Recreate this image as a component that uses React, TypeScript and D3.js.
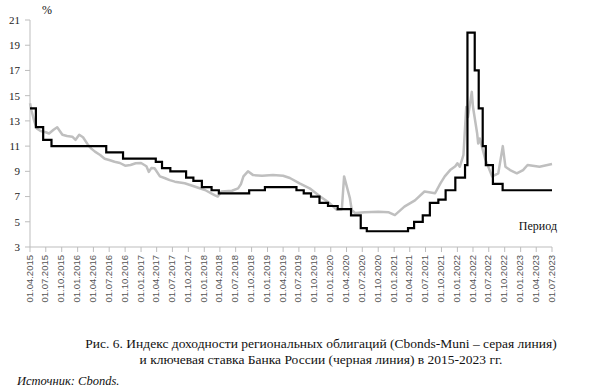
import React from 'react';
import * as d3 from 'd3';

// Ключевая ставка Банка России (даты изменения)
const keyDates = [
  '2015-04-01', '2015-05-05', '2015-06-16', '2015-08-03', '2016-06-14', '2016-09-19',
  '2017-03-27', '2017-05-02', '2017-06-19', '2017-09-18', '2017-10-30', '2017-12-18',
  '2018-02-12', '2018-03-26', '2018-09-17', '2018-12-17', '2019-06-17', '2019-07-29',
  '2019-09-09', '2019-10-28', '2019-12-16', '2020-02-10', '2020-04-27', '2020-06-22',
  '2020-07-27', '2021-03-22', '2021-04-26', '2021-06-15', '2021-07-26', '2021-09-13',
  '2021-10-25', '2021-12-20', '2022-02-14', '2022-02-28', '2022-04-11', '2022-05-04',
  '2022-05-27', '2022-06-14', '2022-07-25', '2022-09-19', '2023-07-01',
];
const keyRates = [
  14, 12.5, 11.5, 11, 10.5, 10,
  9.75, 9.25, 9, 8.5, 8.25, 7.75,
  7.5, 7.25, 7.5, 7.75, 7.5, 7.25,
  7, 6.5, 6.25, 6, 5.5, 4.5,
  4.25, 4.5, 5, 5.5, 6.5, 6.75,
  7.5, 8.5, 9.5, 20, 17, 14,
  11, 9.5, 8, 7.5, 7.5,
];

// Индекс Cbonds-Muni (доходность, %)
const muniDates = [
  '2015-04-01', '2015-04-10', '2015-04-25', '2015-05-10', '2015-06-01', '2015-07-01',
  '2015-07-20', '2015-08-15', '2015-09-05', '2015-09-20', '2015-10-05', '2015-11-01',
  '2015-12-01', '2015-12-20', '2016-01-10', '2016-02-01', '2016-03-01', '2016-03-20',
  '2016-04-10', '2016-05-10', '2016-06-05', '2016-07-01', '2016-08-01', '2016-09-01',
  '2016-10-01', '2016-11-01', '2016-12-01', '2017-01-01', '2017-02-01', '2017-02-15',
  '2017-03-01', '2017-03-20', '2017-04-20', '2017-05-20', '2017-06-15', '2017-07-15',
  '2017-09-10', '2017-11-10', '2018-01-05', '2018-03-01', '2018-03-20', '2018-04-10',
  '2018-06-10', '2018-07-15', '2018-08-01', '2018-08-15', '2018-09-10', '2018-10-10',
  '2018-12-01', '2019-02-01', '2019-04-01', '2019-05-10', '2019-07-05', '2019-09-01',
  '2019-11-01', '2019-12-25', '2020-02-05', '2020-03-05', '2020-03-18', '2020-04-20',
  '2020-05-01', '2020-05-20', '2020-07-15', '2020-10-01', '2020-12-01', '2021-01-05',
  '2021-03-01', '2021-05-01', '2021-06-25', '2021-08-25', '2021-09-25', '2021-10-20',
  '2021-11-20', '2021-12-20', '2022-01-01', '2022-01-15', '2022-02-05', '2022-02-21',
  '2022-03-03', '2022-03-25', '2022-04-01', '2022-04-25', '2022-05-01', '2022-05-10',
  '2022-06-10', '2022-07-20', '2022-08-05', '2022-08-25', '2022-09-20', '2022-10-05',
  '2022-11-01', '2022-12-10', '2023-01-15', '2023-02-10', '2023-04-20', '2023-07-01',
];
const muniYields = [
  14.4, 13.8, 13.0, 12.4, 12.2, 12.1,
  12.0, 12.3, 12.5, 12.2, 11.9, 11.8,
  11.75, 11.5, 11.9, 11.7, 11.1, 10.8,
  10.56, 10.3, 10.0, 9.9, 9.76, 9.66,
  9.45, 9.5, 9.64, 9.66, 9.4, 8.95,
  9.26, 9.24, 8.6, 8.45, 8.3, 8.18,
  8.05, 7.78, 7.52, 7.12, 7.0, 7.4,
  7.46, 7.65, 8.0, 8.6, 9.0, 8.7,
  8.65, 8.7, 8.65, 8.47, 8.05, 7.65,
  7.0, 6.48, 5.95, 6.0, 8.6, 6.9,
  5.93, 5.7, 5.75, 5.8, 5.75, 5.53,
  6.2, 6.7, 7.4, 7.26, 8.05, 8.6,
  9.1, 9.4, 9.64, 9.37, 10.3, 14.1,
  13.3, 15.3, 14.1, 12.0, 11.2, 11.6,
  10.0, 8.6, 8.7, 8.84, 11.0, 9.37,
  9.1, 8.84, 9.1, 9.5, 9.37, 9.58,
];

const yTicks = [3, 5, 7, 9, 11, 13, 15, 17, 19, 21];
const captionLines = [
  'Рис. 6. Индекс доходности региональных облигаций (Cbonds-Muni – серая линия)',
  'и ключевая ставка Банка России (черная линия) в 2015-2023 гг.',
];

const parse = d3.timeParse('%Y-%m-%d');
const fmt = d3.timeFormat('%d.%m.%Y');

const W = 590;
const H = 391;
const left = 30, right = 552, top = 20, bottom = 247;

export default function App() {
  const start = parse('2015-04-01')!;
  const end = parse('2023-07-01')!;
  const x = d3.scaleTime().domain([start, end]).range([left, right]);
  const y = d3.scaleLinear().domain([3, 21]).range([bottom, top]);
  const xTicks = d3.timeMonth.every(3)!.range(start, d3.timeDay.offset(end, 1));

  const key = keyDates.map((d, i) => ({ d: parse(d)!, v: keyRates[i] }));
  const muni = muniDates.map((d, i) => ({ d: parse(d)!, v: muniYields[i] }));

  const keyLine = d3.line<{ d: Date; v: number }>()
    .x(p => x(p.d)).y(p => y(p.v)).curve(d3.curveStepAfter);
  const muniLine = d3.line<{ d: Date; v: number }>()
    .x(p => x(p.d)).y(p => y(p.v));

  const axisColor = '#bdbdbd';
  const serif = '"Liberation Serif", "Times New Roman", serif';
  const sans = '"Liberation Sans", Arial, sans-serif';

  return (
    <div style={{ position: 'absolute', left: 0, top: 0 }}>
      <svg width={W} height={H} style={{ display: 'block', background: '#fff' }}>
        {/* y axis */}
        <line x1={left} x2={left} y1={top} y2={bottom} stroke={axisColor} strokeWidth={1} />
        {yTicks.map(t => (
          <g key={t}>
            <line x1={left - 5} x2={left} y1={y(t)} y2={y(t)} stroke={axisColor} />
            <text x={left - 10} y={y(t)} dy="0.35em" textAnchor="end"
              fontFamily={serif} fontSize={11} fill="#222">{t}</text>
          </g>
        ))}
        <text x={42} y={14} fontFamily={serif} fontSize={12} fill="#111">%</text>

        {/* x axis */}
        <line x1={left} x2={right} y1={bottom} y2={bottom} stroke={axisColor} strokeWidth={1} />
        {xTicks.map(t => (
          <g key={t.getTime()}>
            <line x1={x(t)} x2={x(t)} y1={bottom} y2={bottom + 5} stroke={axisColor} />
            <text transform={`translate(${x(t)},${bottom + 8}) rotate(-90)`}
              textAnchor="end" dominantBaseline="middle"
              fontFamily={sans} fontSize={9.5} fill="#555">{fmt(t)}</text>
          </g>
        ))}
        <text x={557} y={230} textAnchor="end" fontFamily={serif} fontSize={12} fill="#111">Период</text>

        {/* series */}
        <path d={muniLine(muni)!} fill="none" stroke="#bfbfbf" strokeWidth={2.5} strokeLinejoin="round" />
        <path d={keyLine(key)!} fill="none" stroke="#000" strokeWidth={2.2} />

        {/* caption */}
        {captionLines.map((s, i) => (
          <text key={i} x={321} y={348 + i * 16} textAnchor="middle"
            fontFamily={serif} fontSize={13.5} fill="#111">{s}</text>
        ))}
        <text x={17} y={385} fontFamily={serif} fontSize={12.5} fontStyle="italic" fill="#111">
          Источник: Cbonds.
        </text>
      </svg>
    </div>
  );
}
